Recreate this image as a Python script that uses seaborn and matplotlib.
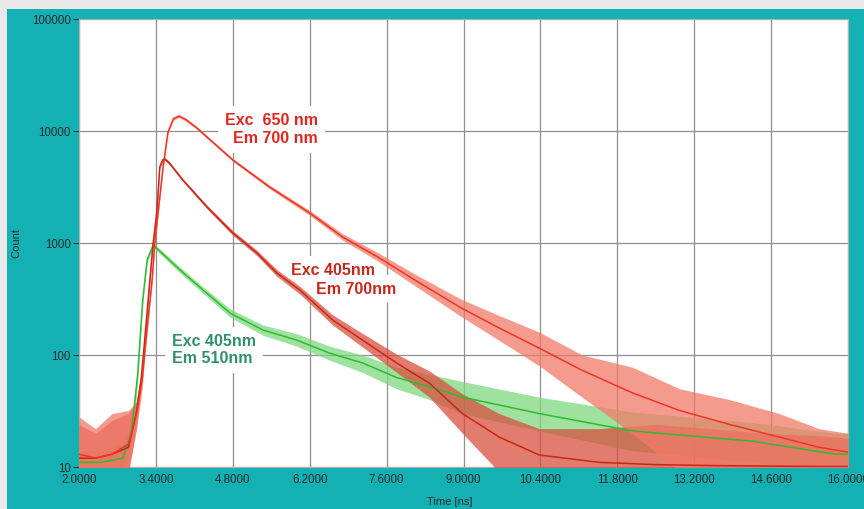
import numpy as np
import pandas as pd
import matplotlib
matplotlib.use("Agg")
import matplotlib.pyplot as plt
from matplotlib.patches import Rectangle
from matplotlib.ticker import FixedLocator, FixedFormatter, NullLocator
import seaborn as sns

# ---------------- data ----------------
# Exc 650 nm / Em 700 nm
t650 = [2.00, 2.30, 2.60, 2.90, 3.05, 3.15, 3.20, 3.33, 3.38, 3.53, 3.62, 3.72, 3.82, 3.95,
        4.15, 4.80, 5.47, 6.20, 6.80, 7.44, 8.20, 8.93, 9.65, 10.38, 11.16, 12.07, 12.93,
        13.84, 14.75, 15.47, 16.00]
c650 = [13, 12, 13, 16, 30, 60, 111, 468, 1000, 4770, 9790, 12900, 13600, 12600,
        10600, 5510, 3160, 1855, 1130, 750, 440, 268, 174, 115, 73, 46, 32,
        24, 18.5, 15, 13.6]
lo650 = [9, 9, 9, 9, 22, 50, 98, 430, 930, 4500, 9400, 12500, 13200, 12200,
         10300, 5350, 3050, 1770, 1060, 690, 390, 225, 135, 80, 42, 20, 9,
         9, 9, 9, 9]
hi650 = [28, 22, 30, 32, 38, 70, 125, 510, 1070, 5050, 10200, 13300, 14000, 13000,
         10900, 5680, 3280, 1950, 1210, 820, 500, 320, 225, 160, 100, 78, 50,
         40, 30, 22, 20]

# Exc 405 nm / Em 700 nm
t405r = [2.00, 2.30, 2.60, 2.90, 3.04, 3.13, 3.18, 3.29, 3.35, 3.42, 3.47, 3.52, 3.56, 3.64,
         3.89, 4.33, 4.80, 5.24, 5.60, 6.02, 6.62, 7.16, 7.78, 8.38, 8.98, 9.65, 10.38,
         11.47, 12.50, 13.50, 14.50, 15.50, 16.00]
c405r = [12, 12, 13, 15, 30, 60, 111, 468, 1000, 1965, 4770, 5500, 5620, 5200,
         3650, 2095, 1227, 815, 540, 380, 205, 136, 85, 56, 30, 18.5, 12.8,
         11, 10.5, 10.3, 10.2, 10.1, 10.1]
lo405r = [9, 9, 9, 9, 22, 50, 98, 430, 930, 1850, 4550, 5300, 5450, 5050,
          3550, 2020, 1170, 770, 505, 350, 185, 118, 70, 42, 20, 9, 9,
          9, 9, 9, 9, 9, 9]
hi405r = [24, 20, 26, 30, 38, 70, 125, 510, 1070, 2080, 5000, 5700, 5800, 5380,
          3760, 2180, 1290, 860, 580, 410, 228, 156, 102, 72, 45, 30, 22,
          22, 24, 22, 20, 19, 18]

# Exc 405 nm / Em 510 nm
t405g = [2.00, 2.40, 2.80, 2.95, 3.02, 3.07, 3.16, 3.24, 3.35, 3.84, 4.26, 4.75, 5.35, 5.96,
         6.56, 7.16, 7.78, 8.38, 8.98, 10.38, 12.07, 14.25, 15.78, 16.00]
c405g = [11, 11, 12, 20, 40, 69, 310, 705, 960, 574, 380, 237, 167, 136,
         104, 85, 63, 52, 42, 30, 21, 17, 13, 13]
lo405g = [9, 9, 9, 15, 32, 58, 280, 660, 910, 540, 355, 218, 150, 120,
          90, 70, 50, 40, 30, 21, 14, 11, 9, 9]
hi405g = [14, 14, 16, 26, 48, 80, 340, 750, 1000, 610, 405, 258, 185, 155,
          120, 100, 78, 67, 58, 42, 31, 25, 20, 20]

x_ticks = [2.0, 3.4, 4.8, 6.2, 7.6, 9.0, 10.4, 11.8, 13.2, 14.6, 16.0]
x_tick_labels = ["2.0000", "3.4000", "4.8000", "6.2000", "7.6000", "9.0000",
                 "10.4000", "11.8000", "13.2000", "14.6000", "16.0000"]
y_ticks = [10, 100, 1000, 10000, 100000]
y_tick_labels = ["10", "100", "1000", "10000", "100000"]

series_names = ["Exc 405nm Em 510nm", "Exc 405nm Em 700nm", "Exc 650nm Em 700nm"]

# ---------------- figure ----------------
sns.set_style("white")
plt.rcParams['font.family'] = ['Liberation Sans', 'DejaVu Sans']

W, H = 864, 509
fig = plt.figure(figsize=(W / 100, H / 100), dpi=100, facecolor='#e9e9e9')
fig.patches.append(Rectangle((7 / W, 0), 1 - 7 / W, 500 / H, transform=fig.transFigure,
                             facecolor='#13b1b3', edgecolor='none', zorder=-10))
ax = fig.add_axes([79 / W, 42 / H, 769 / W, 448 / H])
ax.set_zorder(1)
ax.set_facecolor('white')

line_colors = {series_names[0]: '#2fbb2f', series_names[1]: '#c8261a', series_names[2]: '#ee3524'}
band_colors = {series_names[0]: '#7fd87f', series_names[1]: '#d9503f', series_names[2]: '#f27a68'}

frames = []
for name, t, c in [(series_names[0], t405g, c405g),
                   (series_names[1], t405r, c405r),
                   (series_names[2], t650, c650)]:
    frames.append(pd.DataFrame({"Time": t, "Count": c, "series": name}))
df = pd.concat(frames, ignore_index=True)

bands = {series_names[0]: (t405g, lo405g, hi405g),
         series_names[1]: (t405r, lo405r, hi405r),
         series_names[2]: (t650, lo650, hi650)}

for i, name in enumerate(series_names):
    t, lo, hi = bands[name]
    ax.fill_between(t, lo, hi, color=band_colors[name], alpha=0.75, linewidth=0,
                    zorder=2 + i)

sns.lineplot(data=df, x="Time", y="Count", hue="series", palette=line_colors,
             estimator=None, sort=False, legend=False, linewidth=1.1, ax=ax, zorder=6)

ax.set_yscale('log')
ax.set_xlim(2.0, 16.0)
ax.set_ylim(10, 100000)

ax.xaxis.set_major_locator(FixedLocator(x_ticks))
ax.xaxis.set_major_formatter(FixedFormatter(x_tick_labels))
ax.yaxis.set_major_locator(FixedLocator(y_ticks))
ax.yaxis.set_major_formatter(FixedFormatter(y_tick_labels))
ax.yaxis.set_minor_locator(NullLocator())
ax.xaxis.set_minor_locator(NullLocator())

ax.grid(True, which='major', color='#8f8f8f', linewidth=0.9)
ax.set_axisbelow(True)
for s in ax.spines.values():
    s.set_color('#b0b0b0')
    s.set_linewidth(0.8)

ax.tick_params(axis='y', which='major', length=4, width=0.8, color='#333333',
               labelsize=8.3, labelcolor='#2a2a2a', pad=2, left=True)
ax.tick_params(axis='x', which='major', length=0, labelsize=8.3,
               labelcolor='#2a2a2a', pad=5)

ax.set_xlabel("Time [ns]", fontsize=8, color='#2a2a2a')
ax.set_ylabel("Count", fontsize=8, color='#2a2a2a')
ax.xaxis.set_label_coords((450 - 79) / 769, -(497 - 467) / 448)
ax.yaxis.set_label_coords(-(79 - 21) / 769, 0.5)

box = dict(facecolor='white', edgecolor='none', pad=5)
ax.text(6.35, 10300, "Exc  650 nm\nEm 700 nm", ha='right', va='center',
        multialignment='right', fontsize=11.5, fontweight='bold', color='#e0271d',
        linespacing=1.3, bbox=box, zorder=1.5)
ax.text(7.38, 574, "Exc 405nm", ha='right', va='center', fontsize=11.5,
        fontweight='bold', color='#c22a1e', bbox=box, zorder=1.5)
ax.text(7.78, 388, "Em 700nm", ha='right', va='center', fontsize=11.5,
        fontweight='bold', color='#c22a1e', bbox=box, zorder=1.5)
ax.text(3.69, 111, "Exc 405nm\nEm 510nm", ha='left', va='center',
        multialignment='left', fontsize=11.5, fontweight='bold', color='#32906a',
        linespacing=1.15, bbox=box, zorder=1.5)

fig.savefig("out.png", dpi=100, facecolor=fig.get_facecolor())
